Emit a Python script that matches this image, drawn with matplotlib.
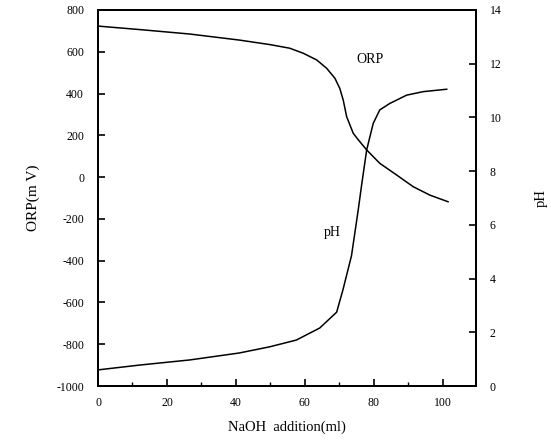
import matplotlib
matplotlib.use("Agg")
import matplotlib.pyplot as plt
from matplotlib.ticker import MultipleLocator

plt.rcParams['font.family'] = ['Liberation Serif', 'DejaVu Serif']
plt.rcParams['axes.unicode_minus'] = False

orp_x = [0, 13, 26.6, 41, 50, 55.6, 59.5, 63.4, 66.3, 68.7, 70.1, 71.1, 72.1, 74.0, 75.4, 77.9, 81.7, 86.6, 91.4, 96.2, 101.5]
orp_y = [723, 705, 685, 656, 634, 617, 593, 561, 521, 473, 425, 369, 289, 210, 180, 130, 66, 10, -46, -86, -118]

ph_x = [0, 12.1, 26.6, 41, 49.8, 57.5, 64.3, 69.2, 71, 73.5, 75.5, 76.4, 77.9, 79.8, 81.7, 84.6, 89.5, 94.3, 101.1]
ph_y = [0.6, 0.78, 0.97, 1.23, 1.46, 1.71, 2.16, 2.75, 3.57, 4.85, 6.6, 7.45, 8.79, 9.78, 10.28, 10.52, 10.83, 10.96, 11.05]

x_ticks = [0, 20, 40, 60, 80, 100]
orp_ticks = [800, 600, 400, 200, 0, -200, -400, -600, -800, -1000]
ph_ticks = [0, 2, 4, 6, 8, 10, 12, 14]

fig = plt.figure(figsize=(5.51, 4.48), dpi=100)
ax = fig.add_axes([98/551, 1-386/448, (476-98)/551, (386-10)/448])
ax2 = ax.twinx()

ax.plot(orp_x, orp_y, color='black', lw=1.1)
ax2.plot(ph_x, ph_y, color='black', lw=1.1)

ax.set_xlim(0, 109.6)
ax.set_ylim(-1000, 800)
ax2.set_ylim(0, 14)

ax.set_xticks(x_ticks)
ax.xaxis.set_minor_locator(MultipleLocator(10))
ax.set_yticks(orp_ticks)
ax2.set_yticks(ph_ticks)

for a in (ax, ax2):
    for s in a.spines.values():
        s.set_linewidth(1.4)
    a.tick_params(direction='in', labelsize=8.5, width=1.2, length=5)
ax.tick_params(axis='x', which='minor', direction='in', length=3, width=1.0)
ax.tick_params(axis='x', pad=8)
ax.tick_params(axis='y', pad=10)
ax2.tick_params(axis='y', pad=10)

ax.set_xlabel('NaOH  addition(ml)', fontsize=10.5, labelpad=8)
ax.set_ylabel('ORP(m V)', fontsize=11, labelpad=12)
ax2.set_ylabel('pH', fontsize=10.5, rotation=90, labelpad=24)

ax.text(79, 561, 'ORP', fontsize=10, ha='center', va='center')
ax.text(68, -263, 'pH', fontsize=10, ha='center', va='center')

fig.savefig('out.png', dpi=100)
